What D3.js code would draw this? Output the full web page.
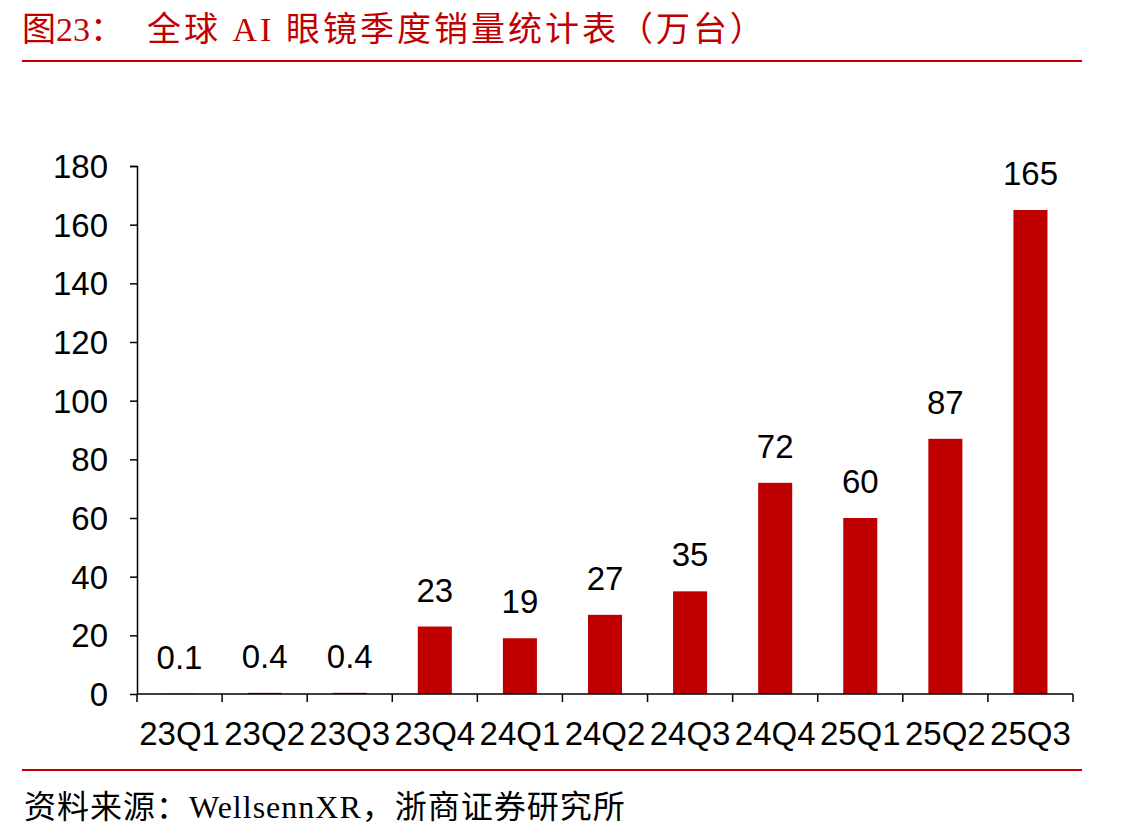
<!DOCTYPE html>
<html>
<head>
<meta charset="utf-8">
<script src="https://cdn.jsdelivr.net/npm/d3@7"></script>
<style>
body { margin:0; background:#fff; }
</style>
</head>
<body>
<svg id="chart"></svg>
<script>
var quarters = ["23Q1","23Q2","23Q3","23Q4","24Q1","24Q2","24Q3","24Q4","25Q1","25Q2","25Q3"];
var sales = [0.1,0.4,0.4,23,19,27,35,72,60,87,165];
var valueLabels = ["0.1","0.4","0.4","23","19","27","35","72","60","87","165"];
var yTicks = [0,20,40,60,80,100,120,140,160,180];

var screen = {width:1141, height:838};
var margins = {left:137, right:68, top:166, bottom:144};
var graph = {
    width: screen.width - margins.left - margins.right,
    height: screen.height - margins.top - margins.bottom
};
var red = "#C00000";
var sansFont = "'Liberation Sans', Arial, sans-serif";
var serifFont = "'Liberation Serif', 'Times New Roman', 'Noto Sans CJK SC', serif";

var svg = d3.select("#chart")
    .attr("width", screen.width)
    .attr("height", screen.height);

// title + rules
svg.append("text")
    .attr("x", 22).attr("y", 41)
    .attr("fill", red)
    .style("font-family", serifFont)
    .style("font-size", "34px")
    .text("图23：");
svg.append("text")
    .attr("x", 147).attr("y", 41)
    .attr("fill", red)
    .style("font-family", serifFont)
    .style("font-size", "34px")
    .style("letter-spacing", "3px")
    .text("全球 AI 眼镜季度销量统计表（万台）");
svg.append("line")
    .attr("x1", 22).attr("x2", 1082).attr("y1", 61).attr("y2", 61)
    .attr("stroke", red).attr("stroke-width", 2);
svg.append("line")
    .attr("x1", 22).attr("x2", 1082).attr("y1", 770).attr("y2", 770)
    .attr("stroke", red).attr("stroke-width", 2);
svg.append("text")
    .attr("x", 24).attr("y", 818)
    .attr("fill", "#000")
    .style("font-family", serifFont)
    .style("font-size", "32px")
    .style("letter-spacing", "1px")
    .text("资料来源：WellsennXR，浙商证券研究所");

var target = svg.append("g")
    .attr("transform", "translate(" + margins.left + "," + margins.top + ")");

var xScale = d3.scaleBand()
    .domain(quarters)
    .range([0, graph.width])
    .paddingInner(0.6)
    .paddingOuter(0.3);

var yScale = d3.scaleLinear()
    .domain([0, 180])
    .range([graph.height, 0]);

// bars
target.selectAll("rect.bar")
    .data(sales)
    .enter()
    .append("rect")
    .attr("class", "bar")
    .attr("x", function(d, i) { return xScale(quarters[i]); })
    .attr("y", function(d) { return yScale(d); })
    .attr("width", xScale.bandwidth())
    .attr("height", function(d) { return graph.height - yScale(d); })
    .attr("fill", red);

// value labels
target.selectAll("text.val")
    .data(sales)
    .enter()
    .append("text")
    .attr("class", "val")
    .attr("x", function(d, i) { return xScale(quarters[i]) + xScale.bandwidth() / 2; })
    .attr("y", function(d) { return yScale(d) - 25; })
    .attr("text-anchor", "middle")
    .style("font-family", sansFont)
    .style("font-size", "33px")
    .text(function(d, i) { return valueLabels[i]; });

// y axis
var yAxis = target.append("g")
    .call(d3.axisLeft(yScale).tickValues(yTicks).tickSize(7).tickPadding(22).tickFormat(d3.format("d")));
yAxis.select(".domain").attr("stroke", "#000").attr("stroke-width", 1.5).attr("d", "M-7,0.5H0.5V" + graph.height);
yAxis.selectAll("line").attr("stroke", "#000").attr("stroke-width", 1.5);
yAxis.selectAll("text")
    .style("font-family", sansFont)
    .style("font-size", "33px")
    .attr("fill", "#000")
    .attr("dy", "0.35em");

// x axis: ticks at band boundaries
var xAxis = target.append("g")
    .attr("transform", "translate(0," + graph.height + ")");
xAxis.append("line")
    .attr("x1", 0).attr("x2", graph.width)
    .attr("stroke", "#000").attr("stroke-width", 1.5);
var bounds = d3.range(quarters.length + 1).map(function(i) { return i * graph.width / quarters.length; });
xAxis.selectAll("line.tick")
    .data(bounds)
    .enter()
    .append("line")
    .attr("class", "tick")
    .attr("x1", function(d) { return d; }).attr("x2", function(d) { return d; })
    .attr("y1", 0).attr("y2", 8)
    .attr("stroke", "#000").attr("stroke-width", 1.5);
xAxis.selectAll("text")
    .data(quarters)
    .enter()
    .append("text")
    .attr("x", function(d) { return xScale(d) + xScale.bandwidth() / 2; })
    .attr("y", 51)
    .attr("text-anchor", "middle")
    .style("font-family", sansFont)
    .style("font-size", "33px")
    .text(function(d) { return d; });
</script>
</body>
</html>
